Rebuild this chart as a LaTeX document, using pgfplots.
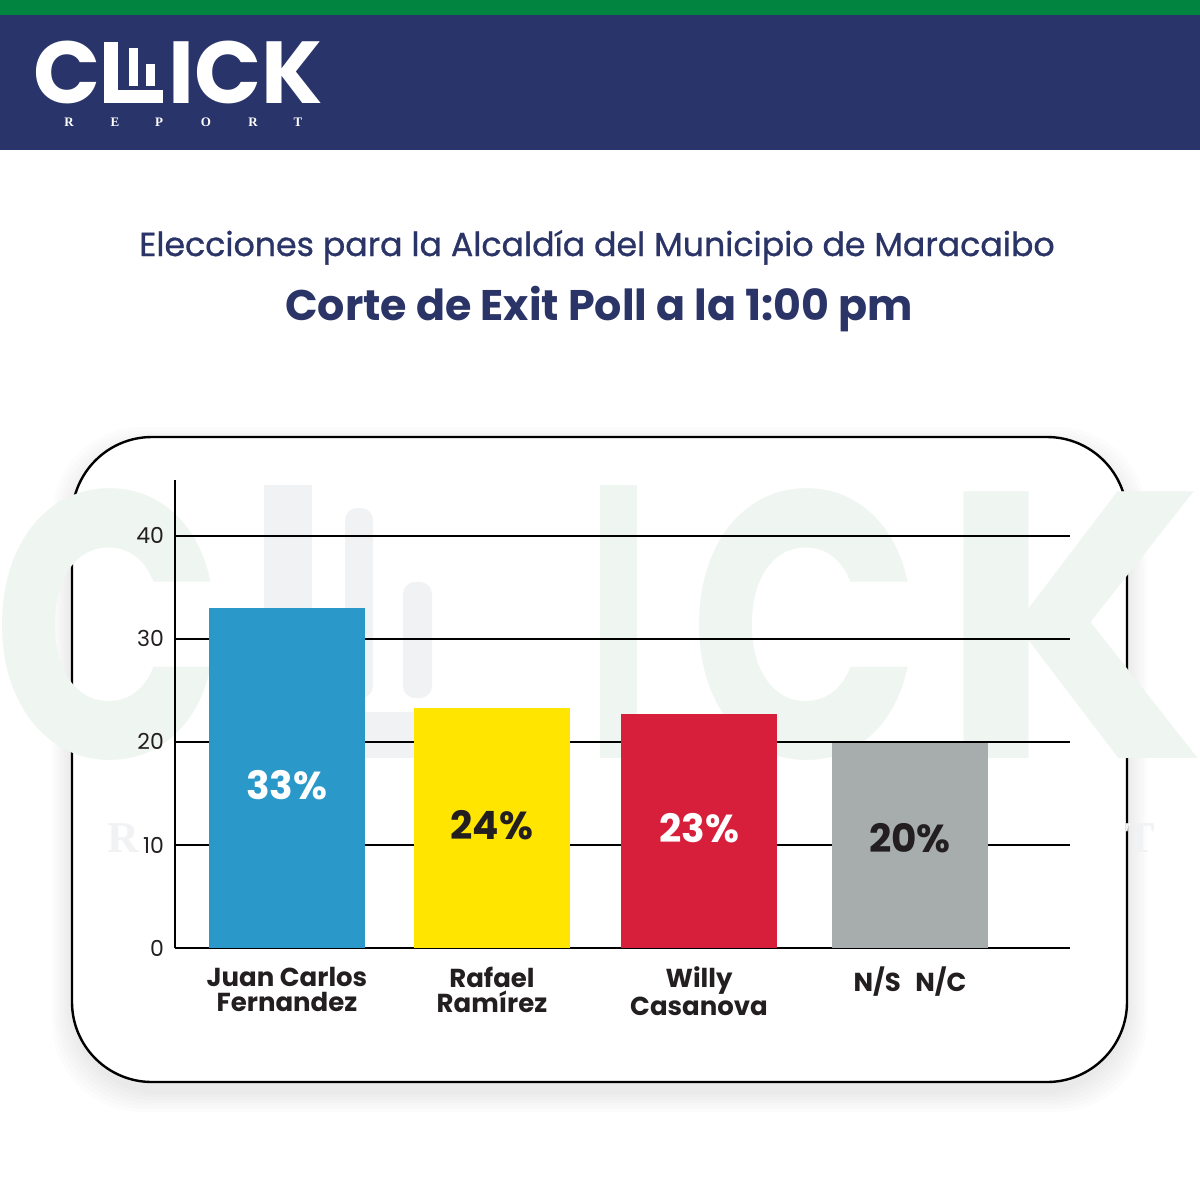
\documentclass[border=0pt]{standalone}
\usepackage{pgfplots}
\pgfplotsset{compat=1.18}
\usepackage{fontspec}
\setmainfont{Poppins}
\newfontfamily\popmed{Poppins}[FakeBold=0.9]
\newfontfamily\serifb{Liberation Serif}
\definecolor{navy}{HTML}{28346A}
\definecolor{titlenavy}{HTML}{2B3467}
\definecolor{hdrgreen}{HTML}{00843F}
\definecolor{cblue}{HTML}{2A98C9}
\definecolor{cyellow}{HTML}{FFE500}
\definecolor{cred}{HTML}{D71E3A}
\definecolor{cgray}{HTML}{A7ACAC}
\definecolor{ink}{HTML}{231F20}
\definecolor{wmgreen}{RGB}{239,245,241}
\definecolor{wmgray}{RGB}{241,242,244}
\begin{document}
\begin{tikzpicture}
\begin{scope}[x=0.5pt,y=-0.5pt]
\path[use as bounding box] (0,0) rectangle (1200,1200);
\clip (0,0) rectangle (1200,1200);
\fill[white] (0,0) rectangle (1200,1200);
% header
\fill[hdrgreen] (0,0) rectangle (1200,15);
\fill[navy] (0,15) rectangle (1200,150);
\node[anchor=base west, inner sep=0, font=\fontsize{44}{44}\selectfont\bfseries, text=white] at (33,103) {C};
\fill[white] (104,42) rectangle (118,103);
\fill[white] (104,90) rectangle (163,103);
\fill[white] (129,48) rectangle (138,86);
\fill[white] (146,64) rectangle (155,86);
\node[anchor=base west, inner sep=0, font=\fontsize{44}{44}\selectfont\bfseries, text=white] at (168,103) {ICK};
\foreach \l/\xx in {R/69,E/115,P/159,O/206,R/253,T/298}
  \node[anchor=base, inner sep=0, font=\serifb\fontsize{6.5}{6.5}\selectfont\bfseries, text=white] at (\xx,126) {\l};
% titles
\node[anchor=base, inner sep=0, font=\popmed\fontsize{16.6}{16.6}\selectfont, text=titlenavy] at (597,256) {Elecciones para la Alcaldía del Municipio de Maracaibo};
\node[anchor=base, inner sep=0, font=\fontsize{21.4}{21.4}\selectfont\bfseries, text=titlenavy] at (599,320) {Corte de Exit Poll a la 1:00 pm};
% shadow
\foreach \s in {2,5,8,11,14,17,20}
  \fill[black, opacity=0.012, rounded corners=45] (72-\s,437-\s+10) rectangle (1127+\s,1082+\s+10);
\draw[line width=1.2pt, fill=white, rounded corners=40] (72,437) rectangle (1127,1082);
% watermark
\node[anchor=base, inner sep=0, xscale=0.8, font=\fontsize{190}{190}\selectfont\bfseries, text=wmgreen] at (108,758) {C};
\fill[wmgray] (264,485) rectangle (312,758);
\fill[wmgray, rounded corners=6] (345,508) rectangle (373,698);
\fill[wmgray, rounded corners=6] (403,582) rectangle (432,698);
\fill[wmgray] (264,712) rectangle (520,758);
\fill[wmgreen] (600,485) rectangle (637,758);
\node[anchor=base, inner sep=0, xscale=0.8, font=\fontsize{190}{190}\selectfont\bfseries, text=wmgreen] at (805,758) {C};
\node[anchor=base west, inner sep=0, xscale=1.0, font=\fontsize{190}{190}\selectfont\bfseries, text=wmgreen] at (940,758) {K};
\node[anchor=base, inner sep=0, font=\serifb\fontsize{22}{22}\selectfont\bfseries, text=wmgray] at (123,852) {R};
\node[anchor=base, inner sep=0, font=\serifb\fontsize{22}{22}\selectfont\bfseries, text=wmgray] at (1140,852) {T};
\end{scope}
\begin{axis}[
  at={(87.5pt,-474pt)}, anchor=south west,
  scale only axis, width=447.5pt, height=234pt,
  xmin=-0.539, xmax=3.77, ymin=0, ymax=45.4,
  axis x line=bottom, axis y line=left,
  axis line style={-, line width=1.2pt, black},
  ytick={0,10,20,30,40},
  ymajorgrids, grid style={black, line width=1pt},
  major tick length=0pt,
  xtick={0,0.987,1.984,3.0},
  xticklabels={{Juan Carlos\\Fernandez},{Rafael\\Ramírez},{Willy\\Casanova},{N/S\;\;N/C}},
  xticklabel style={align=center, font=\fontsize{13}{12.5}\selectfont\bfseries, text=ink, anchor=north, yshift=-6pt},
  yticklabel style={font=\fontsize{11}{11}\selectfont, text=ink, xshift=-2pt},
  /pgf/number format/assume math mode=true,
]
\addplot[ybar, bar shift=0pt, bar width=0.75, fill=cblue, draw=none] coordinates {(0,33)};
\addplot[ybar, bar shift=0pt, bar width=0.75, fill=cyellow, draw=none] coordinates {(0.987,23.3)};
\addplot[ybar, bar shift=0pt, bar width=0.75, fill=cred, draw=none] coordinates {(1.984,22.7)};
\addplot[ybar, bar shift=0pt, bar width=0.75, fill=cgray, draw=none] coordinates {(3.0,19.9)};
\node[font=\fontsize{19.5}{19.5}\selectfont\bfseries, text=white] at (axis cs:0,15.8) {33\%};
\node[font=\fontsize{19.5}{19.5}\selectfont\bfseries, text=ink] at (axis cs:0.987,11.9) {24\%};
\node[font=\fontsize{19.5}{19.5}\selectfont\bfseries, text=white] at (axis cs:1.984,11.65) {23\%};
\node[font=\fontsize{19.5}{19.5}\selectfont\bfseries, text=ink] at (axis cs:3.0,10.7) {20\%};
\end{axis}
\end{tikzpicture}
\end{document}
